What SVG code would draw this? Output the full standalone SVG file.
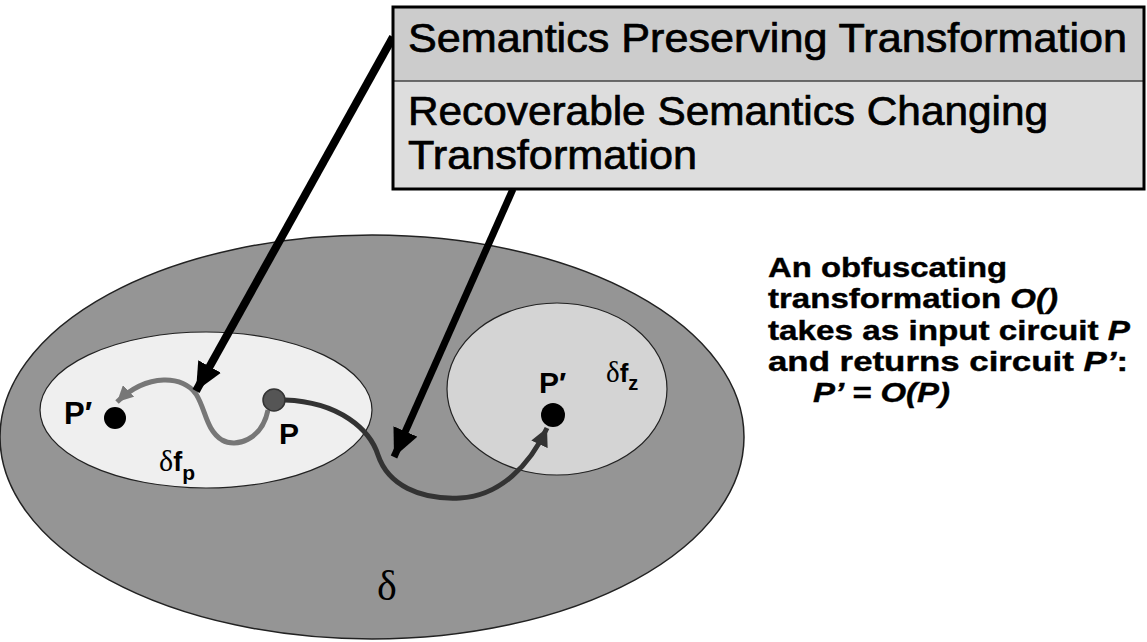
<svg xmlns="http://www.w3.org/2000/svg" width="1147" height="642" viewBox="0 0 1147 642">
<style>
.lbl{font-family:"Liberation Sans",Arial,sans-serif;font-weight:bold;fill:#000}
.box{font-family:"Liberation Sans",Arial,sans-serif;font-size:40px;fill:#000;stroke:#000;stroke-width:0.7}
.sym{font-family:"Liberation Serif","Times New Roman",serif;fill:#000}
.note{font-family:"Liberation Sans",Arial,sans-serif;font-weight:bold;font-size:28px;fill:#000;stroke:#000;stroke-width:0.4}
.it{font-style:italic}
</style>
<defs>
<marker id="ahBig" markerUnits="userSpaceOnUse" markerWidth="30" markerHeight="26" refX="28" refY="13" orient="auto"><path d="M0,0 L28,13 L0,26 z" fill="#000"/></marker>
<marker id="ahGrey" markerUnits="userSpaceOnUse" markerWidth="18" markerHeight="16" refX="16" refY="8" orient="auto"><path d="M0,0 L16,8 L0,16 z" fill="#777"/></marker>
<marker id="ahDark" markerUnits="userSpaceOnUse" markerWidth="20" markerHeight="18" refX="18" refY="9" orient="auto"><path d="M0,0 L18,9 L0,18 z" fill="#333"/></marker>
</defs>
<rect width="1147" height="642" fill="#fff"/>
<g id="space">
<ellipse cx="372" cy="437" rx="372" ry="202" fill="#959595" stroke="#222" stroke-width="1.5"/>
<text class="sym" x="377" y="600" font-size="42">δ</text>
</g>
<g id="fp">
<ellipse cx="206" cy="410" rx="166" ry="78" fill="#efefef" stroke="#222" stroke-width="1.2"/>
<text class="lbl" x="159" y="471" font-size="27"><tspan class="sym" font-size="30" font-weight="normal">δ</tspan>f<tspan font-size="21" dy="9">p</tspan></text>
</g>
<g id="fz">
<ellipse cx="557" cy="389" rx="110" ry="86" fill="#d4d4d4" stroke="#222" stroke-width="1.2"/>
<text class="lbl" x="606" y="382" font-size="26"><tspan class="sym" font-size="29" font-weight="normal">δ</tspan>f<tspan font-size="20" dy="8">z</tspan></text>
</g>
<g id="connectors" fill="none">
<path d="M268,410 C262,440 236,448 222,440 C206,430 206,410 196,394 C184,376 148,372 117,402" stroke="#777" stroke-width="5" marker-end="url(#ahGrey)"/>
<path d="M285,400 C340,402 370,430 378,455 C388,485 420,500 460,498 C500,496 530,465 547,428" stroke="#333" stroke-width="5" marker-end="url(#ahDark)"/>
<line x1="393" y1="37" x2="196" y2="391" stroke="#000" stroke-width="8" marker-end="url(#ahBig)"/>
<line x1="513" y1="189" x2="394" y2="457" stroke="#000" stroke-width="7" marker-end="url(#ahBig)"/>
</g>
<g id="P">
<circle cx="274" cy="400" r="11" fill="#555" stroke="#333" stroke-width="1.5"/>
<text class="lbl" x="279" y="444" font-size="30">P</text>
</g>
<g id="Pprime-left">
<circle cx="115" cy="418" r="11" fill="#000"/>
<text class="lbl" x="64" y="424" font-size="31">P′</text>
</g>
<g id="Pprime-right">
<circle cx="553" cy="415" r="12" fill="#000"/>
<text class="lbl" x="539" y="393" font-size="30">P′</text>
</g>
<g id="legend">
<rect x="393" y="7" width="751" height="74" fill="#cccccc"/>
<rect x="393" y="81" width="751" height="108" fill="#dddddd"/>
<line x1="393" y1="81" x2="1144" y2="81" stroke="#444" stroke-width="1.5"/>
<rect x="393" y="7" width="751" height="182" fill="none" stroke="#000" stroke-width="3"/>
<text class="box" x="408" y="52" textLength="719" lengthAdjust="spacingAndGlyphs">Semantics Preserving Transformation</text>
<text class="box" x="408" y="125" textLength="640" lengthAdjust="spacingAndGlyphs">Recoverable Semantics Changing</text>
<text class="box" x="408" y="169" textLength="289" lengthAdjust="spacingAndGlyphs">Transformation</text>
</g>
<g id="note">
<text class="note" x="768" y="277" textLength="239" lengthAdjust="spacingAndGlyphs">An obfuscating</text>
<text class="note" x="768" y="308" textLength="290" lengthAdjust="spacingAndGlyphs">transformation <tspan class="it">O()</tspan></text>
<text class="note" x="768" y="340" textLength="362" lengthAdjust="spacingAndGlyphs">takes as input circuit <tspan class="it">P</tspan></text>
<text class="note" x="768" y="371" textLength="360" lengthAdjust="spacingAndGlyphs">and returns circuit <tspan class="it">P’</tspan>:</text>
<text class="note it" x="813" y="402" textLength="137" lengthAdjust="spacingAndGlyphs">P’ = O(P)</text>
</g>
</svg>
